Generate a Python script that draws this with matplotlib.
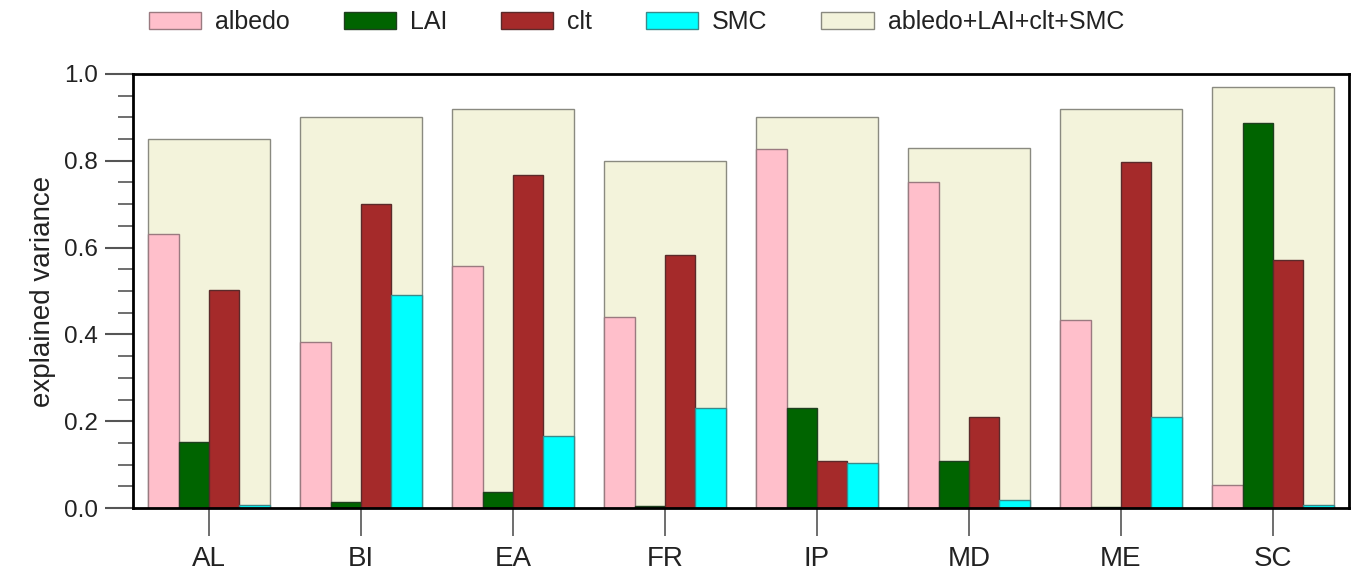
import matplotlib
matplotlib.use("Agg")
import matplotlib.pyplot as plt
import numpy as np
from matplotlib.ticker import MultipleLocator

plt.rcParams['font.family'] = ['Liberation Sans', 'DejaVu Sans']

regions = ["AL", "BI", "EA", "FR", "IP", "MD", "ME", "SC"]
albedo = [0.631, 0.382, 0.557, 0.440, 0.827, 0.751, 0.433, 0.053]
lai = [0.152, 0.014, 0.037, 0.005, 0.230, 0.108, 0.002, 0.887]
clt = [0.502, 0.700, 0.767, 0.583, 0.108, 0.210, 0.797, 0.571]
smc = [0.007, 0.490, 0.166, 0.230, 0.104, 0.018, 0.210, 0.007]
combined = [0.85, 0.90, 0.92, 0.80, 0.90, 0.83, 0.92, 0.97]

fig = plt.figure(figsize=(13.54, 5.73), dpi=100)
ax = fig.add_axes([0.0982, 0.1134, 0.8981, 0.7575])

x = np.arange(len(regions))
w = 0.2
hc = ax.bar(x, combined, width=0.8, color='#F3F3DB', edgecolor='#8a8a80', linewidth=1.0,
            label='abledo+LAI+clt+SMC', zorder=1)
series = [(albedo, '#FFBFCB', '#9a7a80', 'albedo'),
          (lai, '#006400', '#1f3f1f', 'LAI'),
          (clt, '#A52A2A', '#5a2a2a', 'clt'),
          (smc, '#00FFFF', '#3a8a8a', 'SMC')]
handles = []
for i, (vals, fc, ec, lab) in enumerate(series):
    h = ax.bar(x - 0.3 + i * w, vals, width=w, color=fc, edgecolor=ec, linewidth=1.0,
               label=lab, zorder=2)
    handles.append(h)
handles.append(hc)

ax.set_xlim(-0.5, 7.5)
ax.set_ylim(0, 1.0)
ax.set_xticks(x)
ax.set_xticklabels(regions, fontsize=20, color='#222222')
ax.yaxis.set_minor_locator(MultipleLocator(0.05))
yt = np.arange(0, 1.01, 0.2)
ax.set_yticks(yt)
ax.set_yticklabels([f"{v:.1f}" for v in yt], fontsize=17.5, color='#222222')
ax.tick_params(axis='y', which='major', direction='out', length=20, width=1.5, color='#555555', pad=5)
ax.tick_params(axis='y', which='minor', direction='out', length=11, width=1.2, color='#555555')
ax.tick_params(axis='x', which='major', direction='out', length=20, width=1.2, color='#555555', pad=7)
ax.set_ylabel('explained variance', fontsize=20, labelpad=6, color='#222222')
for s in ax.spines.values():
    s.set_linewidth(2)
    s.set_color('black')
    s.set_zorder(5)

leg = fig.legend(handles=handles, labels=['albedo', 'LAI', 'clt', 'SMC', 'abledo+LAI+clt+SMC'],
                 loc='upper center', bbox_to_anchor=(0.470, 1.022), ncol=5, frameon=False,
                 fontsize=18, handlelength=2.1, handleheight=0.68, columnspacing=2.15, handletextpad=0.55)
for t in leg.get_texts():
    t.set_color('#222222')

fig.savefig('out.png', dpi=100)
